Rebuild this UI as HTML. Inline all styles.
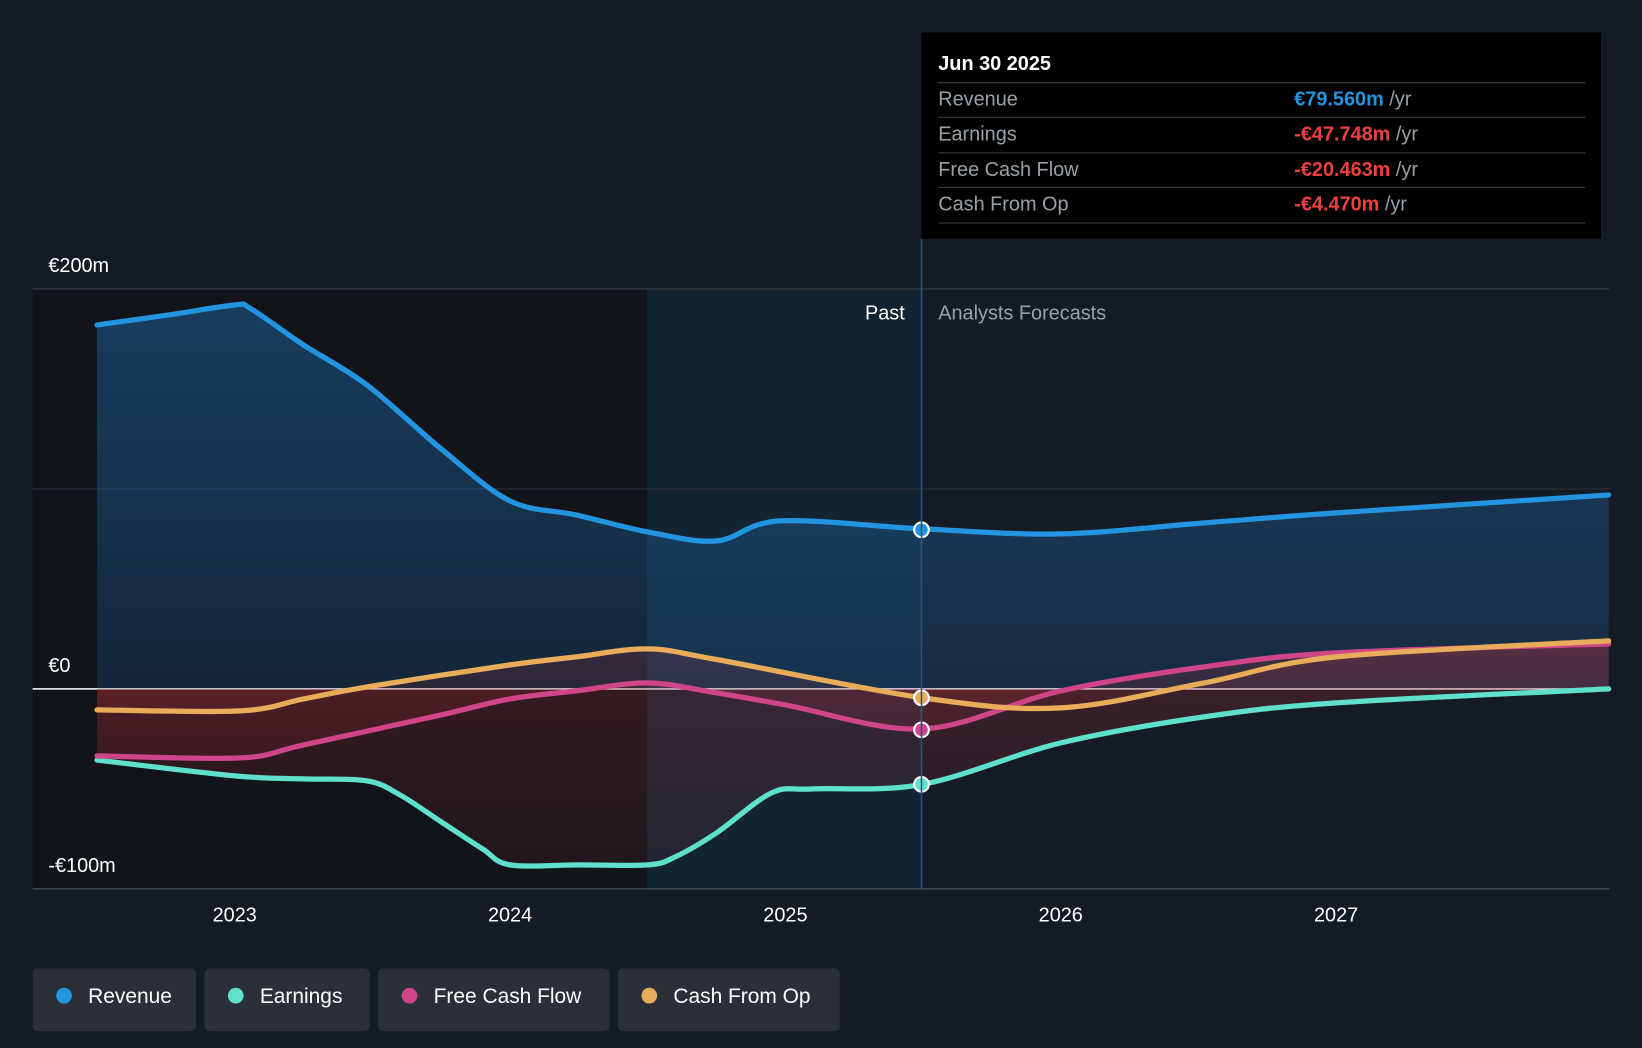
<!DOCTYPE html>
<html><head><meta charset="utf-8"><style>
html,body{margin:0;padding:0;background:#151b24;}
svg{display:block;font-family:"Liberation Sans",sans-serif;}
</style></head><body>
<svg id="chart" width="1642" height="1048" viewBox="0 0 1568 1001" xmlns="http://www.w3.org/2000/svg">
<defs>
<linearGradient id="revGrad" x1="0" y1="0" x2="0" y2="1"><stop offset="0" stop-color="#1f6fb5" stop-opacity="0.45"/><stop offset="1" stop-color="#1f6fb5" stop-opacity="0.2"/></linearGradient>
<linearGradient id="negGrad" x1="0" y1="0" x2="0" y2="1"><stop offset="0" stop-color="#c0303a" stop-opacity="0.35"/><stop offset="1" stop-color="#c0303a" stop-opacity="0.15"/></linearGradient>
</defs>
<rect x="0" y="0" width="1568" height="1001" fill="#151b24"/>
<rect x="31" y="276" width="587" height="573" fill="#111419"/>
<rect x="618" y="276" width="262" height="573" fill="#13283a" opacity="0.7"/>
<g id="grid"></g>
<g id="areas"></g>
<g id="lines"></g>
<g id="dots"></g>
<line x1="880" y1="228" x2="880" y2="849" stroke="#2b5575" stroke-width="1.5"/>
<text x="864" y="305" fill="#fff" font-size="19" text-anchor="end">Past</text>
<text x="896" y="305" fill="#9aa0a8" font-size="19">Analysts Forecasts</text>
<g>
<rect x="880" y="31" width="649" height="197" fill="#000"/>
<text x="896" y="67" fill="#fff" font-size="19" font-weight="bold">Jun 30 2025</text>
<line x1="896" y1="79" x2="1514" y2="79" stroke="#444"/>
<text x="896" y="101" fill="#9aa0a8" font-size="19">Revenue</text>
<text x="1236" y="101" font-size="19"><tspan fill="#2394e0" font-weight="bold">€79.560m</tspan><tspan fill="#9aa0a8"> /yr</tspan></text>
<line x1="896" y1="112" x2="1514" y2="112" stroke="#444"/>
<text x="896" y="134" fill="#9aa0a8" font-size="19">Earnings</text>
<text x="1236" y="134" font-size="19"><tspan fill="#ee4040" font-weight="bold">-€47.748m</tspan><tspan fill="#9aa0a8"> /yr</tspan></text>
<line x1="896" y1="146" x2="1514" y2="146" stroke="#444"/>
<text x="896" y="168" fill="#9aa0a8" font-size="19">Free Cash Flow</text>
<text x="1236" y="168" font-size="19"><tspan fill="#ee4040" font-weight="bold">-€20.463m</tspan><tspan fill="#9aa0a8"> /yr</tspan></text>
<line x1="896" y1="179" x2="1514" y2="179" stroke="#444"/>
<text x="896" y="201" fill="#9aa0a8" font-size="19">Cash From Op</text>
<text x="1236" y="201" font-size="19"><tspan fill="#ee4040" font-weight="bold">-€4.470m</tspan><tspan fill="#9aa0a8"> /yr</tspan></text>
<line x1="896" y1="213" x2="1514" y2="213" stroke="#444"/>
</g>
<g id="xaxis"></g>
<g id="legend"></g>
</svg>
<script>
const yTicks=[200,0,-100];
const yTickLabels=["€200m","€0","-€100m"];
const xTicks=[2023,2024,2025,2026,2027];
const revX=[2022.5,2022.76,2023.0,2023.06,2023.25,2023.48,2023.75,2024.0,2024.24,2024.5,2024.75,2024.98,2025.5,2026.0,2026.52,2027.0,2027.99];
const revY=[182,187,192,190,172,152,120,94,87,78.5,74,84,80,77.5,83,88,97];
const earnX=[2022.5,2023.0,2023.25,2023.48,2023.6,2023.75,2023.9,2024.0,2024.25,2024.5,2024.6,2024.75,2024.95,2025.1,2025.5,2026.0,2026.52,2027.0,2027.99];
const earnY=[-35.6,-43.5,-45,-46,-53,-66.5,-80,-88,-88,-88,-84,-72,-52,-50,-47.7,-27,-14,-7,0];
const fcfX=[2022.5,2023.02,2023.25,2023.75,2024.0,2024.24,2024.5,2024.75,2025.0,2025.5,2026.0,2026.52,2027.0,2027.99];
const fcfY=[-33.5,-34.5,-28,-13,-5,-1,3,-2,-8,-20,-1,11,18,22.5];
const cfoX=[2022.5,2023.02,2023.25,2023.48,2024.0,2024.24,2024.5,2024.75,2025.5,2026.0,2026.52,2027.0,2027.99];
const cfoY=[-10.5,-11,-5,1,12,16,20,14.7,-4.5,-9.5,3,16,24];
const seriesNames=["Revenue","Earnings","Free Cash Flow","Cash From Op"];
const seriesColors=["#2394e0","#5ee0cc","#d0448a","#e9ac5b"];
const dotValues=[79.56,-47.748,-20.463,-4.47];

const X=y=>224+(y-2023)*263;
const Y=v=>658-v*1.91;
const NS="http://www.w3.org/2000/svg";
function mk(tag,attrs,parent){const e=document.createElementNS(NS,tag);for(const k in attrs)e.setAttribute(k,attrs[k]);parent.appendChild(e);return e;}
function pathD(xs,ys){const p=xs.map((x,i)=>[X(x),Y(ys[i])]);let d="M"+p[0][0]+","+p[0][1];
for(let i=0;i<p.length-1;i++){const p0=p[i-1]||p[i],p1=p[i],p2=p[i+1],p3=p[i+2]||p2;
const c1x=p1[0]+(p2[0]-p0[0])/6,c1y=p1[1]+(p2[1]-p0[1])/6,c2x=p2[0]-(p3[0]-p1[0])/6,c2y=p2[1]-(p3[1]-p1[1])/6;
d+=` C${c1x},${c1y} ${c2x},${c2y} ${p2[0]},${p2[1]}`;}return d;}
const grid=document.getElementById('grid');
yTicks.forEach((t,i)=>{
 const l=mk('line',{x1:31,x2:1537,y1:Y(t),y2:Y(t),stroke:t===0?'#ffffff':'#3a4048','stroke-width':t===0?1.5:1},grid);
 
 
 const tx=mk('text',{x:46,y:Y(t)-16,fill:'#fff','font-size':19},grid);tx.textContent=yTickLabels[i];
 
 
});
const mid=mk('line',{x1:31,x2:1537,y1:Y(100),y2:Y(100),stroke:'#2a3038'},grid);


const xa=document.getElementById('xaxis');
const axl=mk('line',{x1:31,x2:1537,y1:849,y2:849,stroke:'#555b63'},xa);


xTicks.forEach(t=>{const tx=mk('text',{x:X(t),y:880,fill:'#fff','font-size':19,'text-anchor':'middle'},xa);tx.textContent=t;
 
 });
const all=[[revX,revY],[earnX,earnY],[fcfX,fcfY],[cfoX,cfoY]];
const areas=document.getElementById('areas'),lines=document.getElementById('lines'),dots=document.getElementById('dots');
all.forEach(([xs,ys],i)=>{
 const d=pathD(xs,ys);
 const a=mk('path',{d:d+` L${X(xs[xs.length-1])},${Y(0)} L${X(xs[0])},${Y(0)} Z`,fill:i===0?'url(#revGrad)':'url(#negGrad)',opacity:i===0?1:0.6},areas);
 
 
 const l=mk('path',{d:d,fill:'none',stroke:seriesColors[i],'stroke-width':5,'stroke-linecap':'round'},lines);
 
 
 const c=mk('circle',{cx:880,cy:Y(dotValues[i]),r:7,fill:seriesColors[i],stroke:'#fff','stroke-width':2},dots);
 
 
});
const lg=document.getElementById('legend');
const lx=[31,195,361,590],lw=[156,158,221,212];
seriesNames.forEach((n,i)=>{
 const g=mk('g',{},lg);
 
 
 mk('rect',{x:lx[i],y:925,width:lw[i],height:60,rx:5,fill:'#2a2f38'},g);
 mk('circle',{cx:lx[i]+30,cy:951,r:7.5,fill:seriesColors[i]},g);
 const t=mk('text',{x:lx[i]+53,y:958,fill:'#fff','font-size':20},g);t.textContent=n;
});
</script>
</body></html>
